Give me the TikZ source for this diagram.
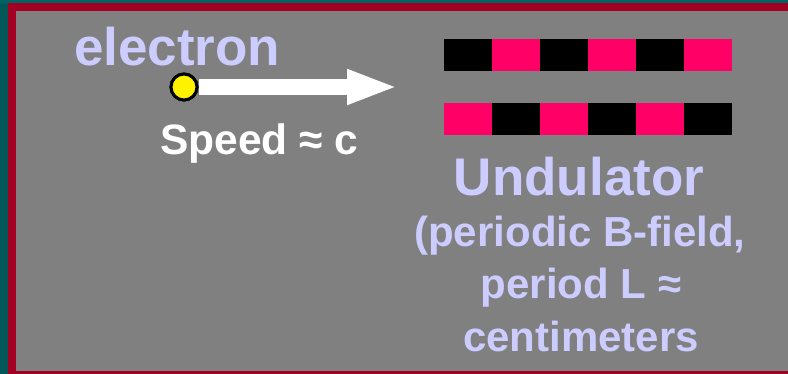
\documentclass[tikz,border=0pt]{standalone}
\usepackage{fontspec}
\setmainfont{Liberation Sans}
\usetikzlibrary{arrows.meta}
\definecolor{tealA}{HTML}{005858}
\definecolor{tealB}{HTML}{006464}
\definecolor{frameRed}{HTML}{A40024}
\definecolor{panelGray}{HTML}{808080}
\definecolor{lav}{HTML}{CCCCFF}
\definecolor{mag}{HTML}{FF0066}
\tikzset{
  lbl/.style={inner sep=0pt, font=\bfseries, text=lav},
  dotstyle/.style={circle, fill=yellow, draw=black, line width=3pt, minimum size=26pt, inner sep=0pt},
}
\begin{document}
\begin{tikzpicture}[x=1pt,y=-1pt]
\useasboundingbox (0,0) rectangle (788,374);
% background frame
\fill[tealA] (0,0) rectangle (788,374);
\fill[tealB] (0,0) rectangle (788,3);
\fill[frameRed] (8,3) rectangle (788,374);
\fill[panelGray] (16,11) rectangle (788,371);
% undulator magnets
\foreach \i in {0,...,5}{
  \pgfmathsetmacro{\xa}{444+48*\i}
  \pgfmathsetmacro{\xb}{492+48*\i}
  \ifodd\i
    \fill[mag] (\xa,39) rectangle (\xb,71);
    \fill[black] (\xa,103) rectangle (\xb,135);
  \else
    \fill[black] (\xa,39) rectangle (\xb,71);
    \fill[mag] (\xa,103) rectangle (\xb,135);
  \fi
}
% electron
\node[lbl, font=\fontsize{53}{62}\selectfont\bfseries, anchor=base west] (etext) at (74,66) {electron};
\coordinate (tip) at (398,87);
\node[dotstyle] (dot) at (184,87) {};
\draw[white, line width=16pt, -{Triangle[length=51pt,width=32pt]}] (dot.east) -- (tip);
\node[dotstyle] (dot2) at (184,87) {};
\node[inner sep=0pt, text=white, font=\fontsize{42.5}{50}\selectfont\bfseries, anchor=base west] (speed) at (160,155) {Speed ≈ c};
% undulator labels
\node[lbl, font=\fontsize{53}{62}\selectfont\bfseries, anchor=base] (und) at (579,196) {Undulator};
\node[lbl, font=\fontsize{42}{50}\selectfont\bfseries, anchor=base] (l1) at (580,247) {(periodic B-field,};
\node[lbl, font=\fontsize{42}{50}\selectfont\bfseries, anchor=base] (l2) at (581,299) {period L ≈};
\node[lbl, font=\fontsize{42}{50}\selectfont\bfseries, anchor=base] (l3) at (581,352) {centimeters};
\end{tikzpicture}
\end{document}
